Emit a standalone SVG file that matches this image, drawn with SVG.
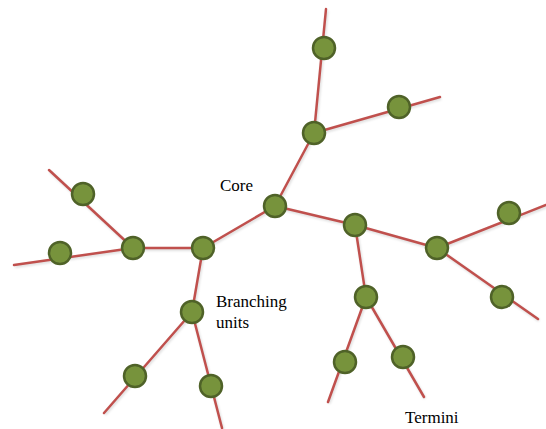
<svg xmlns="http://www.w3.org/2000/svg" width="546" height="429" viewBox="0 0 546 429">
  <style>
    .edge { stroke: #c0504d; stroke-width: 2.5; stroke-linecap: round; fill: none; }
    .shadow { stroke: #000; stroke-opacity: 0.12; stroke-width: 3; fill: none; }
    .node { fill: #77933c; stroke: #4f6228; stroke-width: 2.5; }
  </style>
  <defs>
    <filter id="soft" x="-20%" y="-20%" width="140%" height="140%">
      <feGaussianBlur stdDeviation="0.8"/>
    </filter>
  </defs>

  <!-- connectors -->
  <g id="connectors">
    <g class="shadow" filter="url(#soft)" transform="translate(1,1.5)">
      <path d="M275,206 L314,133 M314,133 L326,9 M314,133 L440,97"/>
      <path d="M275,206 L203,248 L133,248 M133,248 L49,170 M133,248 L14,265"/>
      <path d="M203,248 L192,312 L222,428 M192,312 L104,413"/>
      <path d="M275,206 L355,225 L437,248 M437,248 L546,205 M437,248 L538,319"/>
      <path d="M355,225 L366,297 L328,402 M366,297 L424,397"/>
    </g>
    <g class="edge">
      <path d="M275,206 L314,133 M314,133 L326,9 M314,133 L440,97"/>
      <path d="M275,206 L203,248 L133,248 M133,248 L49,170 M133,248 L14,265"/>
      <path d="M203,248 L192,312 L222,428 M192,312 L104,413"/>
      <path d="M275,206 L355,225 L437,248 M437,248 L546,205 M437,248 L538,319"/>
      <path d="M355,225 L366,297 L328,402 M366,297 L424,397"/>
    </g>
  </g>

  <!-- core -->
  <g id="core"><circle class="node" cx="275" cy="206" r="11"/></g>

  <!-- branching units -->
  <g id="branch-1"><circle class="node" cx="314" cy="133" r="11"/></g>
  <g id="branch-2"><circle class="node" cx="203" cy="248" r="11"/></g>
  <g id="branch-3"><circle class="node" cx="133" cy="248" r="11"/></g>
  <g id="branch-4"><circle class="node" cx="192" cy="312" r="11"/></g>
  <g id="branch-5"><circle class="node" cx="355" cy="225" r="11"/></g>
  <g id="branch-6"><circle class="node" cx="437" cy="248" r="11"/></g>
  <g id="branch-7"><circle class="node" cx="366" cy="297" r="11"/></g>

  <!-- termini -->
  <g id="terminus-1"><circle class="node" cx="324" cy="48" r="11"/></g>
  <g id="terminus-2"><circle class="node" cx="399" cy="107" r="11"/></g>
  <g id="terminus-3"><circle class="node" cx="83" cy="194" r="11"/></g>
  <g id="terminus-4"><circle class="node" cx="60" cy="253" r="11"/></g>
  <g id="terminus-5"><circle class="node" cx="211" cy="386" r="11"/></g>
  <g id="terminus-6"><circle class="node" cx="135" cy="376" r="11"/></g>
  <g id="terminus-7"><circle class="node" cx="509" cy="213" r="11"/></g>
  <g id="terminus-8"><circle class="node" cx="502" cy="297" r="11"/></g>
  <g id="terminus-9"><circle class="node" cx="345" cy="362" r="11"/></g>
  <g id="terminus-10"><circle class="node" cx="403" cy="357" r="11"/></g>

  <!-- labels -->
  <g id="labels" font-family="'Liberation Serif', 'DejaVu Serif', serif" font-size="17" fill="#000">
    <text x="220" y="191">Core</text>
    <text x="216" y="307">Branching</text>
    <text x="216" y="328">units</text>
    <text x="405" y="423">Termini</text>
  </g>
</svg>
